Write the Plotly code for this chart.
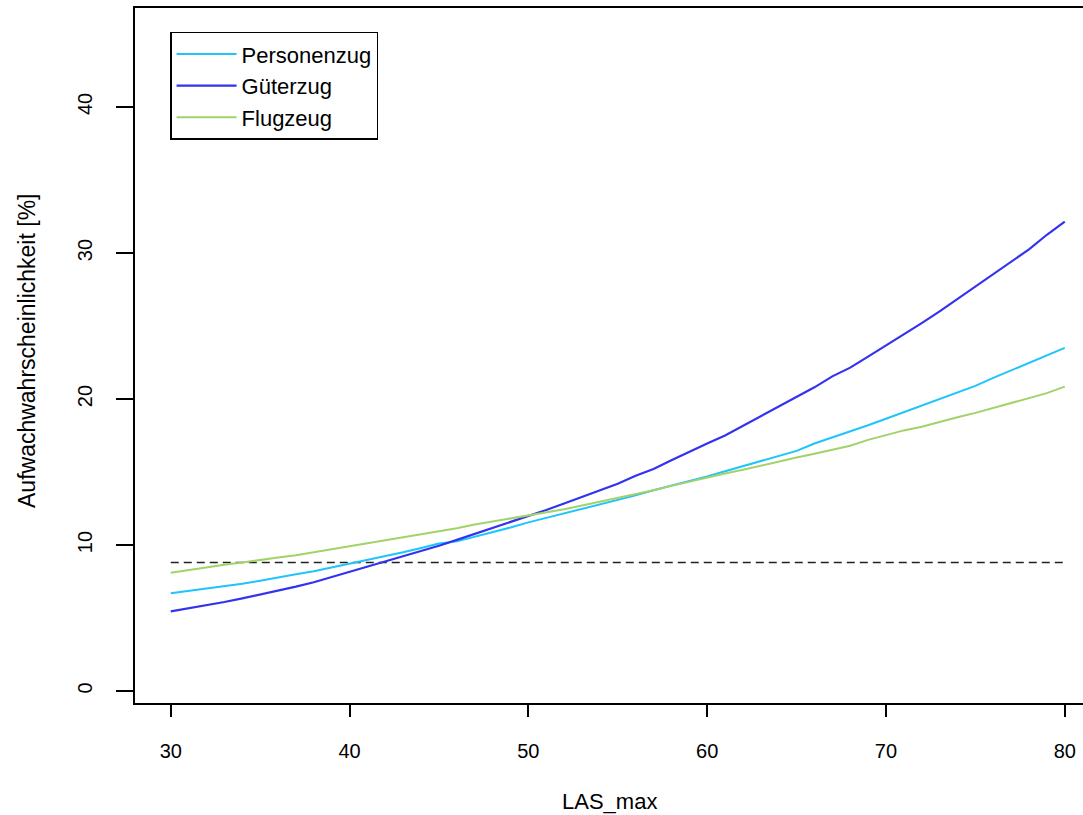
import plotly.graph_objects as go

las_max = list(range(30, 81))

personenzug = [6.7, 6.85, 7.05, 7.2, 7.35, 7.55, 7.8, 8.0, 8.2, 8.45,
               8.75, 8.95, 9.25, 9.5, 9.8, 10.1, 10.25, 10.55, 10.9, 11.2,
               11.55, 11.85, 12.15, 12.5, 12.8, 13.1, 13.4, 13.75, 14.05, 14.35,
               14.7, 15.05, 15.4, 15.75, 16.1, 16.45, 16.95, 17.35, 17.75, 18.2,
               18.65, 19.1, 19.55, 20.0, 20.45, 20.9, 21.45, 21.95, 22.45, 22.95,
               23.5]

gueterzug = [5.45, 5.65, 5.9, 6.1, 6.35, 6.6, 6.85, 7.15, 7.45, 7.8,
             8.15, 8.5, 8.85, 9.2, 9.55, 9.95, 10.35, 10.75, 11.15, 11.55,
             11.95, 12.4, 12.85, 13.3, 13.75, 14.2, 14.75, 15.2, 15.8, 16.4,
             16.95, 17.5, 18.15, 18.8, 19.45, 20.1, 20.8, 21.55, 22.15, 22.9,
             23.65, 24.45, 25.2, 26.0, 26.85, 27.7, 28.55, 29.35, 30.25, 31.25,
             32.15]

flugzeug = [8.1, 8.3, 8.45, 8.65, 8.8, 9.0, 9.15, 9.3, 9.5, 9.7,
            9.9, 10.1, 10.35, 10.55, 10.75, 10.95, 11.15, 11.4, 11.6, 11.8,
            12.0, 12.25, 12.45, 12.7, 12.95, 13.2, 13.5, 13.75, 14.05, 14.35,
            14.65, 14.9, 15.15, 15.45, 15.75, 16.0, 16.25, 16.55, 16.8, 17.2,
            17.55, 17.85, 18.1, 18.45, 18.75, 19.05, 19.4, 19.7, 20.05, 20.4,
            20.85]

baseline_x = [30, 80]
baseline_y = [8.8, 8.8]

x_ticks = [30, 40, 50, 60, 70, 80]
y_ticks = [0, 10, 20, 30, 40]

FONT = "Liberation Sans, Arial, sans-serif"

fig = go.Figure()
fig.add_trace(go.Scatter(x=baseline_x, y=baseline_y, mode="lines",
                         line=dict(color="#222222", width=1.6, dash="8px,5px"),
                         showlegend=False, hoverinfo="skip"))
fig.add_trace(go.Scatter(x=las_max, y=personenzug, mode="lines", name="Personenzug",
                         line=dict(color="#1EC4FA", width=2)))
fig.add_trace(go.Scatter(x=las_max, y=gueterzug, mode="lines", name="Güterzug",
                         line=dict(color="#3232F0", width=2.2)))
fig.add_trace(go.Scatter(x=las_max, y=flugzeug, mode="lines", name="Flugzeug",
                         line=dict(color="#A2D26A", width=2)))

fig.update_layout(
    width=1083, height=815,
    margin=dict(l=135, r=0, t=8, b=112),
    paper_bgcolor="white", plot_bgcolor="white",
    font=dict(family=FONT, color="black", size=20),
    showlegend=True,
    legend=dict(
        x=0.037, y=0.966, xanchor="left", yanchor="top",
        bordercolor="black", borderwidth=1.5, bgcolor="white",
        font=dict(family=FONT, size=22, color="black"),
        itemwidth=60, tracegroupgap=0,
    ),
    xaxis=dict(
        range=[28, 81.02], tickvals=x_ticks, ticks="outside", ticklen=12,
        tickwidth=1.5, tickcolor="black", showline=True, linecolor="black",
        linewidth=1.5, mirror=True, showgrid=False, zeroline=False,
        tickfont=dict(size=20), ticklabelstandoff=17,
    ),
    yaxis=dict(
        range=[-0.82, 46.78], tickvals=y_ticks, ticks="outside", ticklen=17,
        tickwidth=1.5, tickcolor="black", showline=True, linecolor="black",
        linewidth=1.5, mirror=False, showgrid=False, zeroline=False,
        tickangle=-90, tickfont=dict(size=20), ticklabelstandoff=16,
    ),
    annotations=[
        dict(text="LAS_max", xref="paper", yref="paper", x=0.5, y=-0.1424,
             xanchor="center", yanchor="middle", showarrow=False,
             font=dict(size=22)),
        dict(text="Aufwachwahrscheinlichkeit [%]", xref="paper", yref="paper",
             x=-0.1139, y=0.5065, xanchor="center", yanchor="middle",
             textangle=-90, showarrow=False, font=dict(size=23)),
    ],
)

fig.write_html("out.html")
